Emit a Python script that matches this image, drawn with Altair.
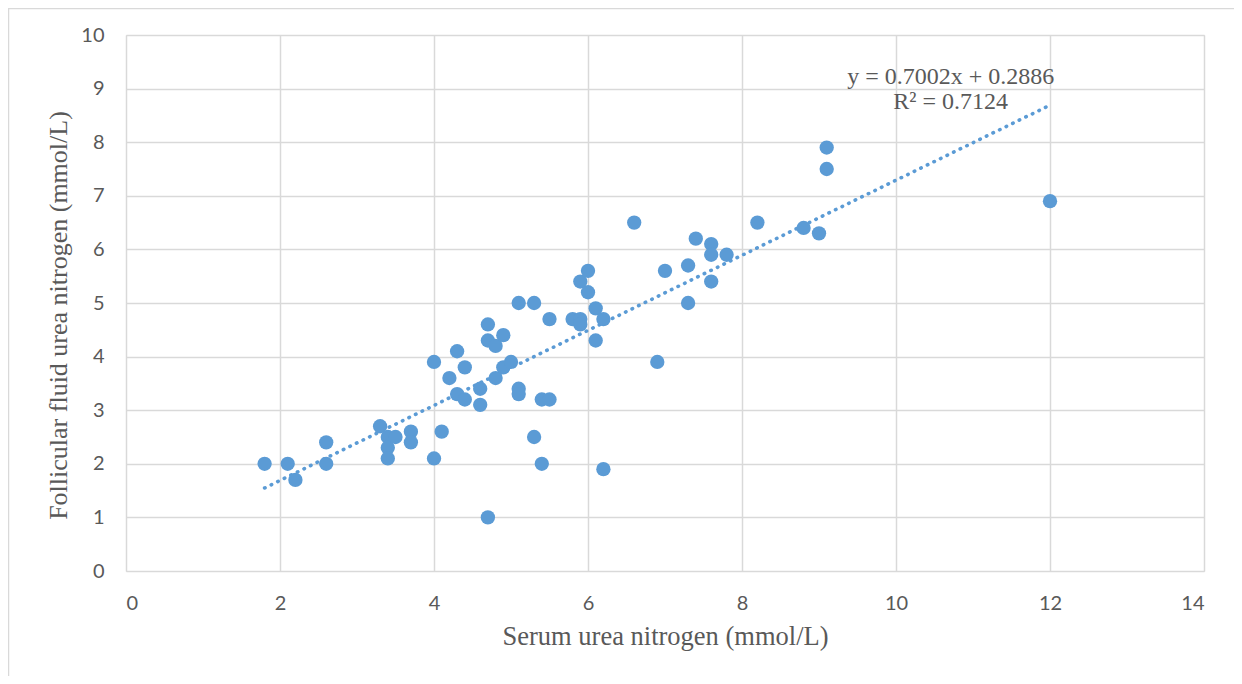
import altair as alt
import pandas as pd

serum = [1.8, 2.1, 2.2, 2.6, 2.6, 3.3, 3.4, 3.4, 3.4, 3.5, 3.7, 3.7, 4.0, 4.0, 4.1,
         4.2, 4.3, 4.3, 4.4, 4.4, 4.6, 4.6, 4.7, 4.7, 4.7, 4.8, 4.8, 4.9, 4.9, 5.0,
         5.1, 5.1, 5.1, 5.3, 5.3, 5.4, 5.4, 5.5, 5.5, 5.8, 5.9, 5.9, 5.9, 6.0, 6.0,
         6.1, 6.1, 6.2, 6.2, 6.6, 6.9, 7.0, 7.3, 7.3, 7.4, 7.6, 7.6, 7.6, 7.8, 8.2,
         8.8, 9.0, 9.1, 9.1, 12.0]
follicular = [2.0, 2.0, 1.7, 2.4, 2.0, 2.7, 2.5, 2.3, 2.1, 2.5, 2.6, 2.4, 3.9, 2.1, 2.6,
              3.6, 4.1, 3.3, 3.8, 3.2, 3.4, 3.1, 4.6, 4.3, 1.0, 4.2, 3.6, 4.4, 3.8, 3.9,
              5.0, 3.4, 3.3, 5.0, 2.5, 3.2, 2.0, 4.7, 3.2, 4.7, 5.4, 4.7, 4.6, 5.6, 5.2,
              4.9, 4.3, 4.7, 1.9, 6.5, 3.9, 5.6, 5.7, 5.0, 6.2, 6.1, 5.9, 5.4, 5.9, 6.5,
              6.4, 6.3, 7.9, 7.5, 6.9]

slope = 0.7002
intercept = 0.2886
r2 = 0.7124
eq_lines = [f"y = {slope}x + {intercept}", f"R² = {r2}"]
eq_x = [10.71, 10.71]
eq_y = [9.22, 8.75]

x_ticks = [0, 2, 4, 6, 8, 10, 12, 14]
y_ticks = [0, 1, 2, 3, 4, 5, 6, 7, 8, 9, 10]

BLUE = "#5B9BD5"
GRID = "#D9D9D9"
TXT = "#595959"

df = pd.DataFrame({"serum": serum, "follicular": follicular})
xmin, xmax = min(serum), max(serum)
trend = pd.DataFrame({"serum": [xmin, xmax],
                      "follicular": [slope * xmin + intercept, slope * xmax + intercept]})
eq = pd.DataFrame({"serum": eq_x, "follicular": eq_y, "label": eq_lines})

W, H = 1078, 536

xscale = alt.Scale(domain=[0, 14], nice=False, zero=True)
yscale = alt.Scale(domain=[0, 10], nice=False, zero=True)

xaxis = alt.Axis(values=x_ticks, format="d", title="Serum urea nitrogen (mmol/L)", grid=True,
                 gridColor=GRID, gridWidth=1.5, domain=False, ticks=False,
                 labelFont="Lato", labelFontSize=20, labelColor=TXT, labelPadding=22,
                 titleFont="Liberation Serif", titleFontSize=26.5, titleFontWeight="normal",
                 titleColor=TXT, titlePadding=10)
yaxis = alt.Axis(values=y_ticks, format="d", title="Follicular fluid urea nitrogen (mmol/L)", grid=True,
                 gridColor=GRID, gridWidth=1.5, domain=False, ticks=False,
                 labelFont="Lato", labelFontSize=20, labelColor=TXT, labelPadding=22,
                 titleFont="Liberation Serif", titleFontSize=26, titleFontWeight="normal",
                 titleColor=TXT, titlePadding=9, titleY=280)

border = alt.Chart(pd.DataFrame({"a": [0]})).mark_rect(
    fillOpacity=0, stroke=GRID, strokeWidth=1.5
).encode(x=alt.value(-117.5), x2=alt.value(W + 400), y=alt.value(-26.5), y2=alt.value(H + 300))

points = alt.Chart(df).mark_circle(size=205, color=BLUE, opacity=1).encode(
    x=alt.X("serum:Q", scale=xscale, axis=xaxis),
    y=alt.Y("follicular:Q", scale=yscale, axis=yaxis),
)

line = alt.Chart(trend).mark_line(
    color=BLUE, strokeWidth=3.6, strokeDash=[0.5, 6.8], strokeCap="round"
).encode(x=alt.X("serum:Q", scale=xscale), y=alt.Y("follicular:Q", scale=yscale))

text = alt.Chart(eq).mark_text(
    font="Liberation Serif", fontSize=24, color=TXT, align="center", baseline="middle"
).encode(x=alt.X("serum:Q", scale=xscale), y=alt.Y("follicular:Q", scale=yscale),
         text="label:N")

chart = alt.layer(border, line, points, text).properties(
    width=W, height=H,
    autosize=alt.AutoSizeParams(type="none"),
    padding={"left": 118, "top": 27, "right": 30, "bottom": 105},
).configure_view(stroke=None).configure(background="white")

chart.save("out.html", embed_options={"renderer": "svg", "actions": False})
